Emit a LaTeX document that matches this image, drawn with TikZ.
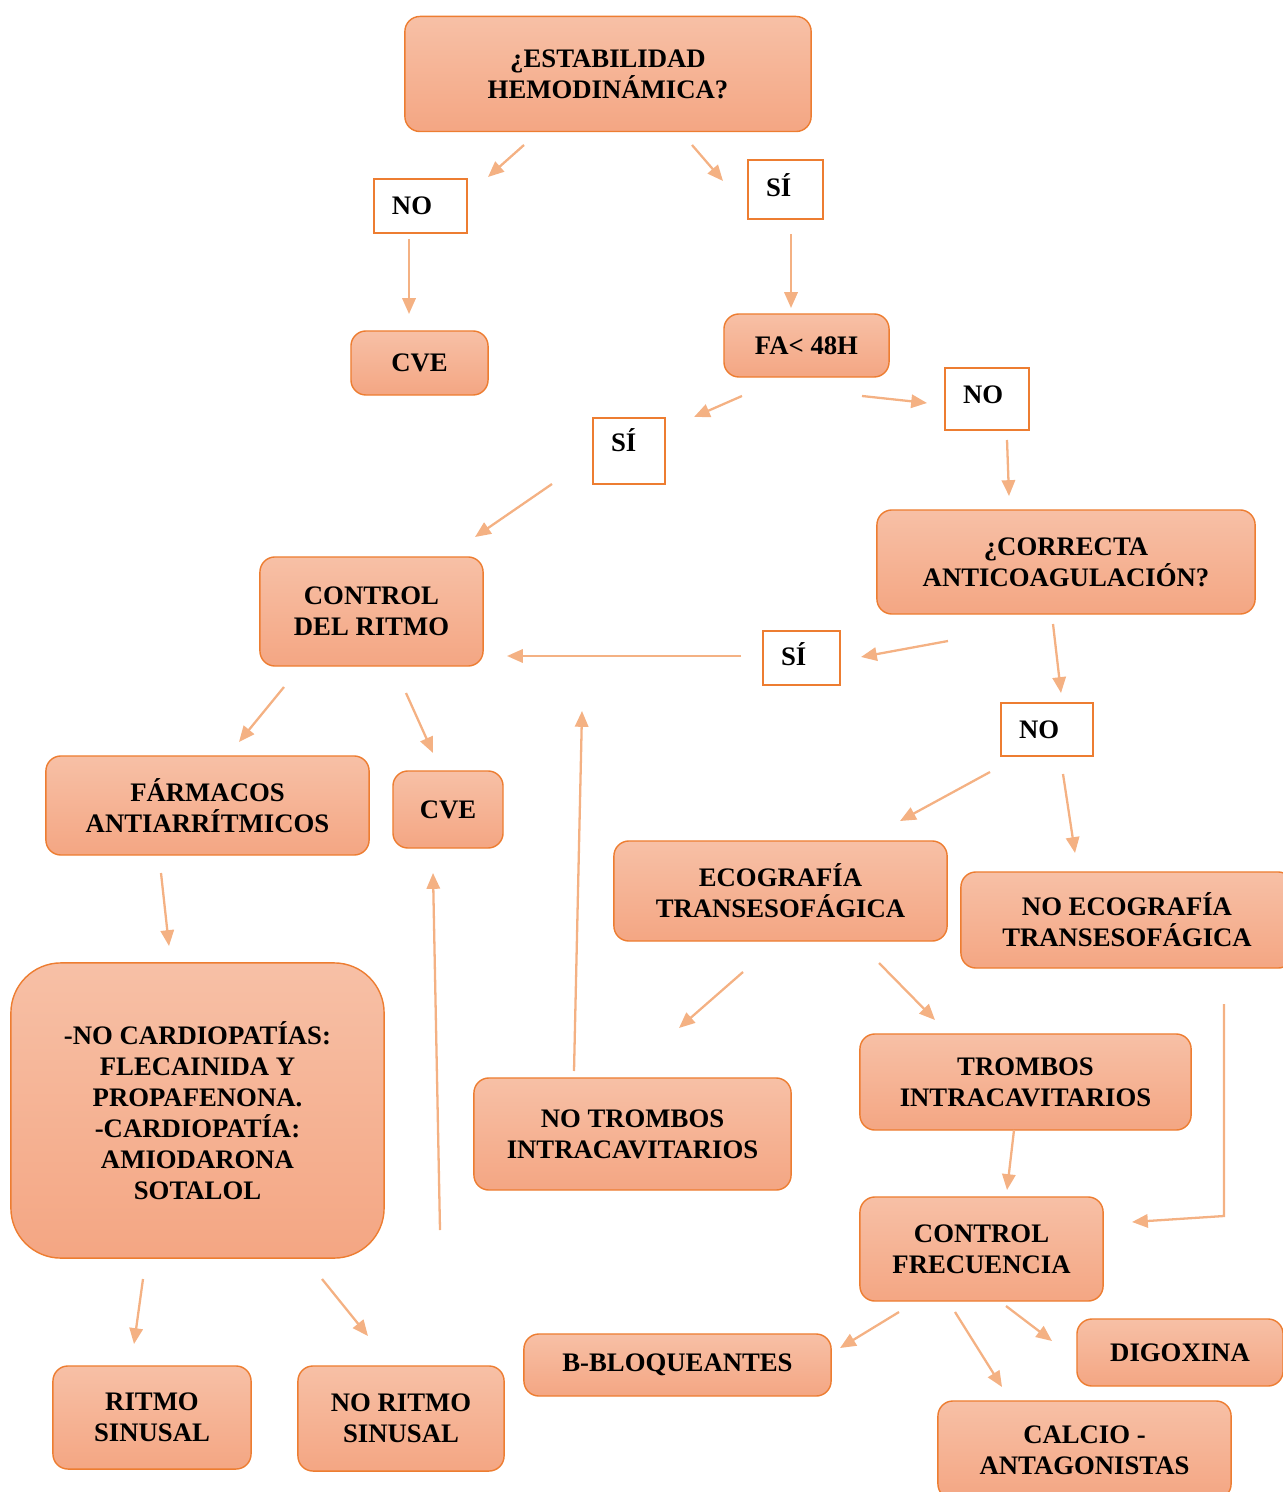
\documentclass[tikz,border=0pt]{standalone}
\usepackage{fontspec}
\setmainfont{Liberation Serif}
\usetikzlibrary{arrows.meta}
\definecolor{boxline}{HTML}{ED7D31}
\definecolor{boxtop}{HTML}{F7C0A6}
\definecolor{boxbot}{HTML}{F4A683}
\definecolor{arrowc}{HTML}{F4B183}
\tikzset{
  box/.style={rounded corners=0.15cm, draw=boxline, line width=0.4pt,
    top color=boxtop, bottom color=boxbot, align=center, inner sep=0pt},
  tag/.style={draw=boxline, line width=0.8pt, fill=white, align=left,
    inner xsep=0.18cm, inner ysep=0pt, text depth=0.08cm},
  arr/.style={draw=arrowc, line width=0.65pt, -{Triangle[length=4.5pt,width=3.8pt]}}
}
\begin{document}
\begin{tikzpicture}[x=0.01cm, y=-0.01cm, font=\fontsize{7.6}{8.8}\selectfont\bfseries]
  \useasboundingbox (0,0) rectangle (1282,1492);

  % boxes
  \node[box, minimum width=4.06cm, minimum height=1.15cm] (EST) at (608, 74) {¿ESTABILIDAD\\HEMODINÁMICA?};
  \node[box, minimum width=1.37cm, minimum height=0.64cm] (CVE1) at (419.5, 363) {CVE};
  \node[box, minimum width=1.65cm, minimum height=0.63cm] (FA) at (806.5, 345.5) {FA< 48H};
  \node[box, minimum width=3.78cm, minimum height=1.04cm] (ANT) at (1066, 562) {¿CORRECTA\\ANTICOAGULACIÓN?};
  \node[box, minimum width=2.23cm, minimum height=1.09cm] (CR) at (371.5, 611.5) {CONTROL\\DEL RITMO};
  \node[box, minimum width=3.23cm, minimum height=0.99cm] (FAR) at (207.5, 805.5) {FÁRMACOS\\ANTIARRÍTMICOS};
  \node[box, minimum width=1.10cm, minimum height=0.77cm] (CVE2) at (448, 809.5) {CVE};
  \node[box, minimum width=3.33cm, minimum height=1.00cm] (ECO) at (780.5, 891) {ECOGRAFÍA\\TRANSESOFÁGICA};
  \node[box, minimum width=3.32cm, minimum height=0.96cm] (NECO) at (1127, 920) {NO ECOGRAFÍA\\TRANSESOFÁGICA};
  \node[box, rounded corners=0.5cm, minimum width=3.73cm, minimum height=2.95cm] (DRG) at (197.5, 1110.5)
    {-NO CARDIOPATÍAS:\\FLECAINIDA Y\\PROPAFENONA.\\-CARDIOPATÍA:\\AMIODARONA\\SOTALOL};
  \node[box, minimum width=3.17cm, minimum height=1.12cm] (NTR) at (632.5, 1134) {NO TROMBOS\\INTRACAVITARIOS};
  \node[box, minimum width=3.31cm, minimum height=0.96cm] (TR) at (1025.5, 1082) {TROMBOS\\INTRACAVITARIOS};
  \node[box, minimum width=2.43cm, minimum height=1.04cm] (CF) at (981.5, 1249) {CONTROL\\FRECUENCIA};
  \node[box, minimum width=3.07cm, minimum height=0.62cm] (BB) at (677.5, 1365) {B-BLOQUEANTES};
  \node[box, minimum width=2.06cm, minimum height=0.67cm] (DIG) at (1180, 1352.5) {DIGOXINA};
  \node[box, minimum width=2.93cm, minimum height=0.98cm] (CA) at (1084.5, 1450) {CALCIO -\\ANTAGONISTAS};
  \node[box, minimum width=1.98cm, minimum height=1.03cm] (RS) at (152, 1417.5) {RITMO\\SINUSAL};
  \node[box, minimum width=2.06cm, minimum height=1.05cm] (NRS) at (401, 1418.5) {NO RITMO\\SINUSAL};

  % yes / no tags
  \node[tag, text width=0.57cm, minimum height=0.54cm, text depth=0pt] (NO1) at (420.5, 206) {NO};
  \node[tag, text width=0.39cm, minimum height=0.59cm] (SI1) at (785.5, 189.5) {SÍ};
  \node[tag, text width=0.36cm, minimum height=0.66cm, text depth=0.22cm] (SI2) at (629, 451) {SÍ};
  \node[tag, text width=0.48cm, minimum height=0.62cm] (NO2) at (987, 399) {NO};
  \node[tag, text width=0.41cm, minimum height=0.54cm] (SI3) at (801.5, 658) {SÍ};
  \node[tag, text width=0.56cm, minimum height=0.53cm, text depth=0pt] (NO3) at (1047, 729.5) {NO};

  % arrow ends
  \coordinate (a1) at (524, 145);   \coordinate (b1) at (488, 177);
  \coordinate (a2) at (692, 145);   \coordinate (b2) at (723, 181);
  \coordinate (a3) at (409, 239);   \coordinate (b3) at (409, 314);
  \coordinate (a4) at (791, 234);   \coordinate (b4) at (791, 308);
  \coordinate (a5) at (742, 396);   \coordinate (b5) at (694, 417);
  \coordinate (a6) at (862, 396);   \coordinate (b6) at (927, 403);
  \coordinate (a7) at (1007, 440);  \coordinate (b7) at (1009, 496);
  \coordinate (a8) at (552, 484);   \coordinate (b8) at (475, 537);
  \coordinate (a9) at (948, 641);   \coordinate (b9) at (861, 657);
  \coordinate (a10) at (741, 656);  \coordinate (b10) at (507, 656);
  \coordinate (a11) at (1053, 624); \coordinate (b11) at (1061, 693);
  \coordinate (a12) at (284, 687);  \coordinate (b12) at (239, 742);
  \coordinate (a13) at (406, 693);  \coordinate (b13) at (433, 753);
  \coordinate (a14) at (990, 772);  \coordinate (b14) at (900, 821);
  \coordinate (a15) at (1063, 774); \coordinate (b15) at (1075, 853);
  \coordinate (a16) at (161, 873);  \coordinate (b16) at (169, 946);
  \coordinate (a17) at (574, 1071); \coordinate (b17) at (582, 711);
  \coordinate (a18) at (440, 1230); \coordinate (b18) at (433, 873);
  \coordinate (a19) at (743, 972);  \coordinate (b19) at (679, 1028);
  \coordinate (a20) at (879, 963);  \coordinate (b20) at (935, 1020);
  \coordinate (a21) at (1224, 1004); \coordinate (k21) at (1224, 1216); \coordinate (b21) at (1132, 1222);
  \coordinate (a22) at (1014, 1130); \coordinate (b22) at (1007, 1190);
  \coordinate (a23) at (143, 1279); \coordinate (b23) at (134, 1344);
  \coordinate (a24) at (322, 1279); \coordinate (b24) at (368, 1336);
  \coordinate (a25) at (899, 1312); \coordinate (b25) at (840, 1348);
  \coordinate (a26) at (955, 1312); \coordinate (b26) at (1002, 1387);
  \coordinate (a27) at (1006, 1306); \coordinate (b27) at (1052, 1341);

  % arrows
  \foreach \i in {1,...,20,22,23,24,25,26,27}
    \draw[arr] (a\i) -- (b\i);
  \draw[arr] (a21) -- (k21) -- (b21);
\end{tikzpicture}
\end{document}
